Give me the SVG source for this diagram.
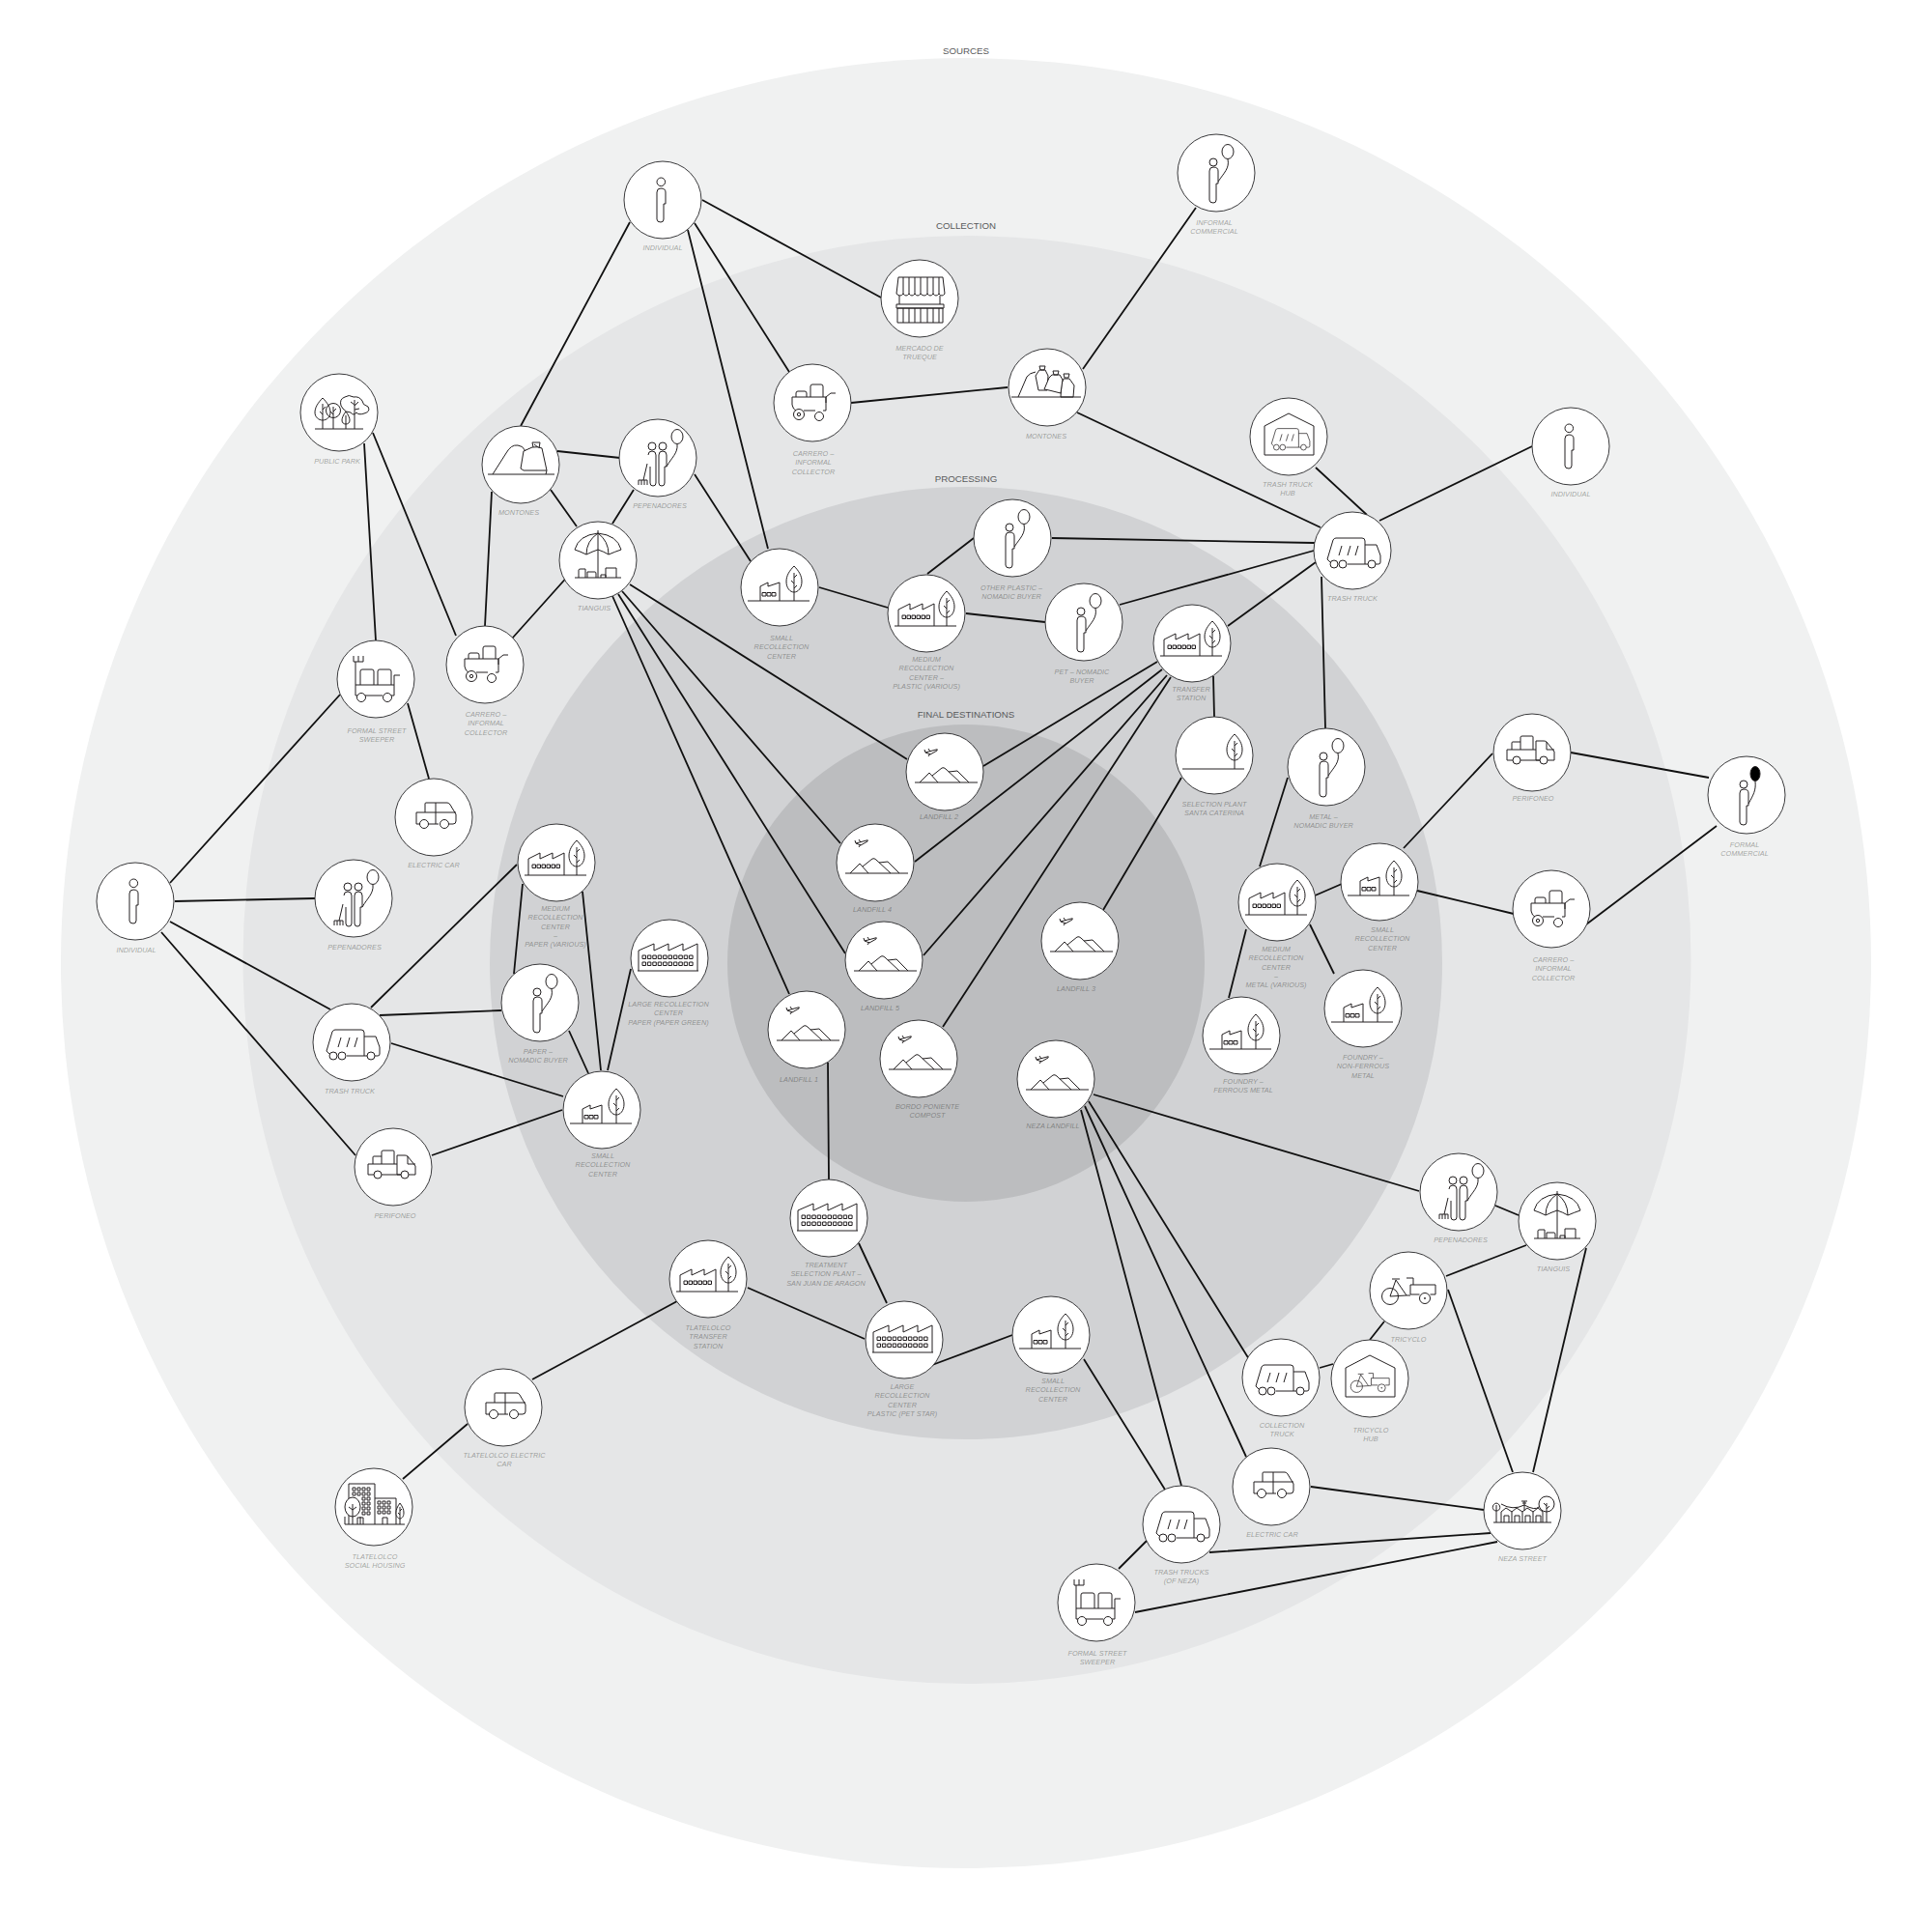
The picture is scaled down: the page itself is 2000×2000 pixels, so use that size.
<svg xmlns="http://www.w3.org/2000/svg" width="2000" height="2000" viewBox="0 0 2000 2000">
<style>
.d{fill:#fff;stroke:#3a3a3c;stroke-width:1}
.ic{fill:none;stroke:#231f20;stroke-width:1;stroke-linejoin:round}
.ci{fill:none;stroke:#111;stroke-width:1.800}
.l{font-family:"Liberation Sans",Arial,sans-serif;font-style:italic;font-size:7.300px;fill:#231f20;fill-opacity:.4;text-anchor:middle}
.h{font-family:"Liberation Sans",Arial,sans-serif;font-size:9.700px;fill:#58595b;text-anchor:middle}
</style>
<defs>
<g id="tree" class="ic"><path d="M0-36C-5-31-8-26-8-20C-8-13-4-9 0-9C4-9 8-13 8-20C8-26 5-31 0-36ZM0-29V0M0-24L3-27M0-18L-3-21M0-13L3-16"/></g>
<g id="person" class="ic"><circle cx="-1.700" cy="-18.700" r="4.300"/><path d="M-6-8Q-6-12-2-12Q3-12 3-8V4H1V20Q1 23-2 23Q-6 23-6 20Z"/></g>
<g id="balloon" class="ic"><circle cx="-3" cy="-11" r="4"/><path d="M-7-2Q-7-6-3-6Q2-6 2-2V11H0V28Q0 31-3 31Q-7 31-7 28Z"/><path d="M12-14C14-5 8 0 2 9"/><ellipse cx="12" cy="-22" rx="6" ry="7.500"/></g>
<g id="balloonk" class="ic"><circle cx="-3" cy="-11" r="4"/><path d="M-7-2Q-7-6-3-6Q2-6 2-2V11H0V28Q0 31-3 31Q-7 31-7 28Z"/><path d="M9-14C10-5 7 0 2 9"/><ellipse cx="9" cy="-22" rx="5" ry="7.500" fill="#000"/></g>
<g id="pep" class="ic"><circle cx="-6" cy="-12" r="4"/><circle cx="5" cy="-12" r="4"/><path d="M-10-3Q-10-7-6-7Q-2-7-2-3V26Q-2 29-5 29Q-8 29-8 26V9M1-3Q1-7 5-7Q9-7 9-3V9H7V26Q7 29 4 29Q1 29 1 26Z"/><path d="M-11 6L-15 23M-20 23H-11M-20 23V28M-17 23V28M-14 23V28M-11 23V28"/><path d="M20-14C21-5 14 0 9 9"/><ellipse cx="20" cy="-22" rx="6" ry="7.500"/></g>
<g id="mont1" class="ic"><path d="M-34 10H35M-29 10L-15-12Q-10-21-3-20Q2-20 5-14M3-14L12-18Q18-19 22-17L27 6L26 10M3-14L0 4L3 6L27 6"/><path d="M13-18L12-23L20-23L19-17M14-21L18-18"/></g>
<g id="mont3" class="ic"><path d="M-37 10H35M-30 10L-21-11Q-18-15-12-16"/><path d="M-8-18H-2L1-12L0 3H-9L-12-12ZM-8-22H-2L-3-18H-7Z"/><path d="M17-9H23L28-2L27 10H14L15-4ZM17-14H23L22-10H18Z"/><path d="M5-13H13L16-8L14 6L2 3L-3 2L2-10ZM6-17H12L11-13H7Z" fill="#fff"/></g>
<g id="tian" class="ic"><path d="M-24-11Q-20-26 0-28Q20-26 24-11Q18-9 11-6Q6-9 0-11Q-6-9-12-6Q-18-9-24-11ZM-12-6Q-12-20 0-28Q11-20 11-6M0-31V18M-24 18H24M-20 18V10Q-20 9-18 9H-13V18M-11 18V12H-3Q-2 12-2 14V18M3 18V15H8V18M8 18V8H19V18"/></g>
<g id="fs" class="ic"><path d="M-33 14H31M-20 14V-1L-12-5V-1L0-5V14"/><rect x="-18" y="5.500" width="4" height="3.500"/><rect x="-13" y="5.500" width="4" height="3.500"/><rect x="-8" y="5.500" width="4" height="3.500"/><use href="#tree" x="15" y="14"/></g>
<g id="fm" class="ic"><path d="M-33 13H31M-29 13V-4L-17-10V-4L-4-10V-4L8-10V13"/><path d="M-25 2h3.500v3.500h-3.500zM-20 2h3.500v3.500h-3.500zM-15 2h3.500v3.500h-3.500zM-10 2h3.500v3.500h-3.500zM-5 2h3.500v3.500h-3.500zM0 2h3.500v3.500h-3.500z"/><use href="#tree" x="21" y="13"/></g>
<g id="fl" class="ic" stroke-width="1.200"><path d="M-33 13H30M-32 13V-8L-16-15V-8L-1-15V-8L14-15V-8L29-15V13"/><path d="M-28-3h3.500v3.500h-3.500zM-22.600-3h3.500v3.500h-3.500zM-17.200-3h3.500v3.500h-3.500zM-11.800-3h3.500v3.500h-3.500zM-6.400-3h3.500v3.500h-3.500zM-1-3h3.500v3.500h-3.500zM4.400-3h3.500v3.500h-3.500zM9.800-3h3.500v3.500h-3.500zM15.200-3h3.500v3.500h-3.500zM20.600-3h3.500v3.500h-3.500z"/><path d="M-28 4h3.500v3.500h-3.500zM-22.600 4h3.500v3.500h-3.500zM-17.200 4h3.500v3.500h-3.500zM-11.800 4h3.500v3.500h-3.500zM-6.400 4h3.500v3.500h-3.500zM-1 4h3.500v3.500h-3.500zM4.400 4h3.500v3.500h-3.500zM9.800 4h3.500v3.500h-3.500zM15.200 4h3.500v3.500h-3.500zM20.600 4h3.500v3.500h-3.500z"/></g>
<g id="sel" class="ic"><path d="M-33 14H31"/><use href="#tree" x="21" y="14"/></g>
<g id="truck" class="ic"><path d="M-23 12L-26 9L-20-11Q-19-13-17-13H10Q13-13 13-10V14H-5M13-6H25L29 5V12Q29 14 27 14H24M16 14H13M-14 5L-11-5M-5 5L-2-5M3 5L6-5"/><circle cx="-19" cy="14" r="4"/><circle cx="-10" cy="14" r="4"/><circle cx="20" cy="14" r="4"/></g>
<g id="hub" class="ic"><path d="M-25 19H26V-11L0-24L-25-11Z"/><use href="#truck" transform="translate(1,1) scale(.72)"/></g>
<g id="trike" class="ic"><circle cx="-19" cy="6" r="8.500"/><circle cx="17" cy="8" r="5.500"/><circle cx="17" cy="8" r=".6"/><path d="M-19 6L-13-11L-2 5ZM-17-12H-9M-2-13H5V-6M2-6H28V4H22.500M11.500 4H2V-6M-2 5H2"/></g>
<g id="hubt" class="ic"><path d="M-25 19H26V-11L0-24L-25-11Z"/><use href="#trike" transform="translate(0,4) scale(.72)"/></g>
<g id="carr" class="ic"><path d="M-21-6H14V8M-21-6V2Q-20 7-17 8M-9 8H3M11 8H14M14 0V-6L19-10H24M-17-6V-10Q-17-12-15-12H-8Q-6-12-6-10V-6M-2-6V-17Q-2-19 0-19H9Q11-19 11-17V-6"/><circle cx="-14" cy="12" r="5.500"/><circle cx="-14" cy="12" r="1.700"/><circle cx="7" cy="14" r="4.500"/></g>
<g id="sweep" class="ic"><path d="M-21 6H19V17H16M-11 17H7M-21 6V17H-19M-21 6V-18M-23-24V-18H-13V-24M-18-24V-18M-16-8Q-16-10-14-10H-4Q-2-10-2-8V6M-16 6V-8M2 6V-8Q2-10 4-10H14Q16-10 16-8V6M19 6V-4H25"/><circle cx="-15" cy="19" r="4.500"/><circle cx="12" cy="19" r="4.500"/></g>
<g id="car" class="ic"><path d="M-14 7H-18V-5H-9V-14Q-9-15-8-15H2V7H-5M5 7H2M-9-5H2M2-15H14Q16-15 17-13L23-3V4Q23 7 20 7H16M2-5H23"/><circle cx="-10" cy="7" r="4.500"/><circle cx="11" cy="7" r="4.500"/></g>
<g id="pick" class="ic"><path d="M-20 8H-26V-3H4V8H8M-12 8H8M16 8H23V-1L15-11Q14-12 12-12H4V-3M-21-3V-10Q-21-11-20-11H-12M-12-3V-16Q-12-17-10-17H0Q1-17 1-16V-3M15-11V-3H23"/><circle cx="-16" cy="8" r="4"/><circle cx="12" cy="8" r="4"/></g>
<g id="land" class="ic"><path d="M-31 11H34M-26 11L-16 1L-7 11M-13 4L-3-4Q-1-5 1-3L16 11M4 0L13-1L25 11"/><path d="M-20-20L-9-23Q-7-24-8-22L-15-18ZM-20-20L-21-23M-15-21L-17-24M-15-19L-17-16"/></g>
<g id="park" class="ic"><path d="M-25 17H25"/><path d="M-17-15C-22-10-25-5-25 0C-25 5-21 8-17 8C-13 8-9 5-9 0C-9-5-12-10-17-15ZM-17-9V17M-17-3L-14-6M-17 2L-20-1"/><circle cx="-6" cy="-2" r="7.500"/><path d="M-6-6V17M-6-1L-3-4M-6 2L-9-1"/><path d="M7-1C4 3 3 6 3 8C3 11 5 12 7 12C9 12 11 11 11 8C11 6 10 3 7-1ZM7 3V17"/><path d="M2-7Q0-14 6-16Q10-19 15-16Q21-17 24-12Q24-8 30-6Q33-1 26 1Q20 3 18 0Q15 4 12 0Q7 0 4-4ZM16-13V17M16-7L20-11M16-3L21-4M16-8L12-11"/></g>
<g id="merc" class="ic"><path d="M-22-22H24L26-5Q23-1 20-5Q17-1 14-5Q11-1 8-5Q5-1 1-5Q-2-1-5-5Q-8-1-11-5Q-14-1-17-5Q-20-1-24-5ZM-17-22V-5M-11-22V-5M-5-22V-5M1-22V-5M8-22V-5M14-22V-5M20-22V-5M-21-3V6M21-3V6M-24 6H25V10H-24ZM-23 10H24V25H-23ZM-17 10V25M-11 10V25M-5 10V25M1 10V25M8 10V25M14 10V25M20 10V25"/></g>
<g id="neza" class="ic"><path d="M-30 12H30M-27 12V-6M-27 0C-32 0-32-7-27-8C-22-7-22 0-27 0ZM-22 12V1L-17-3L-11 1V12M-11 1L-6-3L0 1V12M0 1L5-3L11 1V12M11 1L16-3L21 1V12M-19 12V5H-14V12M-8 12V5H-3V12M3 12V5H8V12M14 12V5H19V12M2-10V0M-1-10H5M0-8H4M-22-7Q-10 0 2-6Q13 0 17-4M25 12V-8M25-2L28-5M25-5L22-8"/><circle cx="25" cy="-7" r="8"/></g>
<g id="house" class="ic"><path d="M-26 18V-24H1V18M1-9H23V18M-30 18H32M-17 18V11H-11V18M9 18V11H14V18M-30 18V10M-14 18V10"/><path d="M-22-20h3v3h-3zM-17-20h3v3h-3zM-12-20h3v3h-3zM-7-20h3v3h-3zM-22-15h3v3h-3zM-17-15h3v3h-3zM-12-15h3v3h-3zM-7-15h3v3h-3zM-12-10h3v3h-3zM-7-10h3v3h-3zM-12-5h3v3h-3zM-7-5h3v3h-3zM-12 0h3v3h-3zM-7 0h3v3h-3zM-12 5h3v3h-3zM-7 5h3v3h-3zM4-6h3v3h-3zM9-6h3v3h-3zM14-6h3v3h-3zM4-1h3v3h-3zM9-1h3v3h-3zM14-1h3v3h-3zM4 4h3v3h-3zM9 4h3v3h-3zM14 4h3v3h-3z"/><ellipse cx="-22" cy="0" rx="8" ry="10" fill="#fff"/><path d="M-22 18V-3M-22 3L-18 0M-22 3L-26 0"/><path d="M27-4C24 0 23 3 23 6C23 10 25 12 27 12C29 12 31 10 31 6C31 3 30 0 27-4ZM27 18V0M27 4L29 2M27 8L25 6" fill="#fff"/></g>
</defs>

<g id="rings">
<circle cx="1000" cy="997" r="937" fill="#f0f1f1"/>
<circle cx="1001" cy="993.500" r="749.500" fill="#e5e6e7"/>
<circle cx="1000" cy="997" r="493" fill="#d1d2d4"/>
<circle cx="1000" cy="997" r="247" fill="#bcbdbf"/>
<text class="h" x="1000" y="56">SOURCES</text>
<text class="h" x="1000" y="237">COLLECTION</text>
<text class="h" x="1000" y="499">PROCESSING</text>
<text class="h" x="1000" y="743">FINAL DESTINATIONS</text>
</g>

<g id="connectors" class="ci">
<path d="M652 230L539 441M712 238L795 568M719 231L817 385M727 207L912 308M881 417L1043 401M577 467L642 474M570 507L597 545M656 507L634 542M719 491L777 581M848 608L919 629M509 509L502 648M590 594L530 661"/>
<path d="M1008 557L960 594M1089 557L1361 562M1082 644L1000 635M1159 626L1360 570M1121 382L1238 215M1115 427L1367 546M1362 484L1415 533M1586 462L1428 539M1271 648L1362 582M1368 597L1372 754M1256 700L1257 742"/>
<path d="M1198 685L1018 793M1203 693L947 892M1208 699L956 989M1212 701L976 1063M1223 805L1142 942"/>
<path d="M652 605L939 786M644 612L870 873M640 615L875 987M634 617L817 1029"/>
<path d="M386 448L472 658M377 459L389 663M422 728L444 806M176 914L352 719M181 933L326 930M176 954L342 1045M167 965L368 1196"/>
<path d="M384 1043L535 895M393 1051L519 1046M405 1080L583 1135M447 1196L582 1149M541 915L532 1008M603 923L622 1108M589 1067L609 1111M653 1003L629 1108"/>
<path d="M1333 805L1304 897M1290 962L1272 1033M1359 928L1389 915M1356 957L1381 1008M1453 878L1545 780M1467 922L1567 946M1626 779L1769 805M1642 957L1777 855"/>
<path d="M857 1100L858 1221M889 1287L918 1349M774 1333L895 1386M965 1413L1048 1382M1122 1407L1206 1542M701 1347L551 1428M484 1474L417 1531"/>
<path d="M1132 1133L1469 1233M1127 1140L1293 1407M1123 1145L1290 1508M1119 1149L1223 1538M1548 1248L1572 1258M1497 1321L1580 1289M1642 1292L1587 1524M1499 1335L1566 1524M1433 1368L1418 1387M1366 1416L1380 1412M1357 1539L1536 1563M1252 1607L1543 1587M1175 1669L1550 1596M1158 1624L1187 1595"/>
</g>

<g id="n1"><circle class="d" cx="686" cy="207" r="40"/><use href="#person" x="686" y="207"/><text class="l" x="686" y="259">INDIVIDUAL</text></g>
<g id="n2"><circle class="d" cx="1259" cy="179" r="40"/><use href="#balloon" x="1259" y="179"/><text class="l" x="1257" y="233">INFORMAL<tspan x="1257" dy="9.300">COMMERCIAL</tspan></text></g>
<g id="n3"><circle class="d" cx="952" cy="309" r="40"/><use href="#merc" x="952" y="309"/><text class="l" x="952" y="363">MERCADO DE<tspan x="952" dy="9.300">TRUEQUE</tspan></text></g>
<g id="n4"><circle class="d" cx="841" cy="417" r="40"/><use href="#carr" x="841" y="417"/><text class="l" x="842" y="472">CARRERO –<tspan x="842" dy="9.300">INFORMAL</tspan><tspan x="842" dy="9.300">COLLECTOR</tspan></text></g>
<g id="n5"><circle class="d" cx="1084" cy="401" r="40"/><use href="#mont3" x="1084" y="401"/><text class="l" x="1083" y="454">MONTONES</text></g>
<g id="n6"><circle class="d" cx="351" cy="427" r="40"/><use href="#park" x="351" y="427"/><text class="l" x="349" y="480">PUBLIC PARK</text></g>
<g id="n7"><circle class="d" cx="539" cy="481" r="40"/><use href="#mont1" x="539" y="481"/><text class="l" x="537" y="533">MONTONES</text></g>
<g id="n8"><circle class="d" cx="681" cy="474" r="40"/><use href="#pep" x="681" y="474"/><text class="l" x="683" y="526">PEPENADORES</text></g>
<g id="n9"><circle class="d" cx="619" cy="580" r="40"/><use href="#tian" x="619" y="580"/><text class="l" x="615" y="632">TIANGUIS</text></g>
<g id="n10"><circle class="d" cx="807" cy="608" r="40"/><use href="#fs" x="807" y="608"/><text class="l" x="809" y="663">SMALL<tspan x="809" dy="9.300">RECOLLECTION</tspan><tspan x="809" dy="9.300">CENTER</tspan></text></g>
<g id="n11"><circle class="d" cx="1334" cy="452" r="40"/><use href="#hub" x="1334" y="452"/><text class="l" x="1333" y="504">TRASH TRUCK<tspan x="1333" dy="9.300">HUB</tspan></text></g>
<g id="n12"><circle class="d" cx="1626" cy="462" r="40"/><use href="#person" x="1626" y="462"/><text class="l" x="1626" y="514">INDIVIDUAL</text></g>
<g id="n13"><circle class="d" cx="1400" cy="570" r="40"/><use href="#truck" x="1400" y="570"/><text class="l" x="1400" y="622">TRASH TRUCK</text></g>
<g id="n14"><circle class="d" cx="1048" cy="557" r="40"/><use href="#balloon" x="1048" y="557"/><text class="l" x="1047" y="611">OTHER PLASTIC –<tspan x="1047" dy="9.300">NOMADIC BUYER</tspan></text></g>
<g id="n15"><circle class="d" cx="959" cy="635" r="40"/><use href="#fm" x="959" y="635"/><text class="l" x="959" y="685">MEDIUM<tspan x="959" dy="9.300">RECOLLECTION</tspan><tspan x="959" dy="9.300">CENTER –</tspan><tspan x="959" dy="9.300">PLASTIC (VARIOUS)</tspan></text></g>
<g id="n16"><circle class="d" cx="1122" cy="644" r="40"/><use href="#balloon" x="1122" y="644"/><text class="l" x="1120" y="698">PET – NOMADIC<tspan x="1120" dy="9.300">BUYER</tspan></text></g>
<g id="n17"><circle class="d" cx="1234" cy="666" r="40"/><use href="#fm" x="1234" y="666"/><text class="l" x="1233" y="716">TRANSFER<tspan x="1233" dy="9.300">STATION</tspan></text></g>
<g id="n18"><circle class="d" cx="1257" cy="782" r="40"/><use href="#sel" x="1257" y="782"/><text class="l" x="1257" y="835">SELECTION PLANT<tspan x="1257" dy="9.300">SANTA CATERINA</tspan></text></g>
<g id="n19"><circle class="d" cx="1373" cy="794" r="40"/><use href="#balloon" x="1373" y="794"/><text class="l" x="1370" y="848">METAL –<tspan x="1370" dy="9.300">NOMADIC BUYER</tspan></text></g>
<g id="n20"><circle class="d" cx="1586" cy="779" r="40"/><use href="#pick" x="1586" y="779"/><text class="l" x="1587" y="829">PERIFONEO</text></g>
<g id="n21"><circle class="d" cx="1808" cy="823" r="40"/><use href="#balloonk" x="1808" y="823"/><text class="l" x="1806" y="877">FORMAL<tspan x="1806" dy="9.300">COMMERCIAL</tspan></text></g>
<g id="n22"><circle class="d" cx="1428" cy="913" r="40"/><use href="#fs" x="1428" y="913"/><text class="l" x="1431" y="965">SMALL<tspan x="1431" dy="9.300">RECOLLECTION</tspan><tspan x="1431" dy="9.300">CENTER</tspan></text></g>
<g id="n23"><circle class="d" cx="1606" cy="941" r="40"/><use href="#carr" x="1606" y="941"/><text class="l" x="1608" y="996">CARRERO –<tspan x="1608" dy="9.300">INFORMAL</tspan><tspan x="1608" dy="9.300">COLLECTOR</tspan></text></g>
<g id="n24"><circle class="d" cx="1322" cy="934" r="40"/><use href="#fm" x="1322" y="934"/><text class="l" x="1321" y="985">MEDIUM<tspan x="1321" dy="9.300">RECOLLECTION</tspan><tspan x="1321" dy="9.300">CENTER</tspan><tspan x="1321" dy="9.300">–</tspan><tspan x="1321" dy="9.300">METAL (VARIOUS)</tspan></text></g>
<g id="n25"><circle class="d" cx="1285" cy="1072" r="40"/><use href="#fs" x="1285" y="1072"/><text class="l" x="1287" y="1122">FOUNDRY –<tspan x="1287" dy="9.300">FERROUS METAL</tspan></text></g>
<g id="n26"><circle class="d" cx="1411" cy="1044" r="40"/><use href="#fs" x="1411" y="1044"/><text class="l" x="1411" y="1097">FOUNDRY –<tspan x="1411" dy="9.300">NON-FERROUS</tspan><tspan x="1411" dy="9.300">METAL</tspan></text></g>
<g id="n27"><circle class="d" cx="978" cy="799" r="40"/><use href="#land" x="978" y="799"/><text class="l" x="972" y="848">LANDFILL 2</text></g>
<g id="n28"><circle class="d" cx="906" cy="893" r="40"/><use href="#land" x="906" y="893"/><text class="l" x="903" y="944">LANDFILL 4</text></g>
<g id="n29"><circle class="d" cx="915" cy="994" r="40"/><use href="#land" x="915" y="994"/><text class="l" x="911" y="1046">LANDFILL 5</text></g>
<g id="n30"><circle class="d" cx="1118" cy="974" r="40"/><use href="#land" x="1118" y="974"/><text class="l" x="1114" y="1026">LANDFILL 3</text></g>
<g id="n31"><circle class="d" cx="951" cy="1096" r="40"/><use href="#land" x="951" y="1096"/><text class="l" x="960" y="1148">BORDO PONIENTE<tspan x="960" dy="9.300">COMPOST</tspan></text></g>
<g id="n32"><circle class="d" cx="1093" cy="1117" r="40"/><use href="#land" x="1093" y="1117"/><text class="l" x="1090" y="1168">NEZA LANDFILL</text></g>
<g id="n33"><circle class="d" cx="835" cy="1066" r="40"/><use href="#land" x="835" y="1066"/><text class="l" x="827" y="1120">LANDFILL 1</text></g>
<g id="n34"><circle class="d" cx="389" cy="703" r="40"/><use href="#sweep" x="389" y="703"/><text class="l" x="390" y="759">FORMAL STREET<tspan x="390" dy="9.300">SWEEPER</tspan></text></g>
<g id="n35"><circle class="d" cx="502" cy="688" r="40"/><use href="#carr" x="502" y="688"/><text class="l" x="503" y="742">CARRERO –<tspan x="503" dy="9.300">INFORMAL</tspan><tspan x="503" dy="9.300">COLLECTOR</tspan></text></g>
<g id="n36"><circle class="d" cx="449" cy="846" r="40"/><use href="#car" x="449" y="846"/><text class="l" x="449" y="898">ELECTRIC CAR</text></g>
<g id="n37"><circle class="d" cx="140" cy="933" r="40"/><use href="#person" x="140" y="933"/><text class="l" x="141" y="986">INDIVIDUAL</text></g>
<g id="n38"><circle class="d" cx="366" cy="930" r="40"/><use href="#pep" x="366" y="930"/><text class="l" x="367" y="983">PEPENADORES</text></g>
<g id="n39"><circle class="d" cx="364" cy="1079" r="40"/><use href="#truck" x="364" y="1079"/><text class="l" x="362" y="1132">TRASH TRUCK</text></g>
<g id="n40"><circle class="d" cx="559" cy="1038" r="40"/><use href="#balloon" x="559" y="1038"/><text class="l" x="557" y="1091">PAPER –<tspan x="557" dy="9.300">NOMADIC BUYER</tspan></text></g>
<g id="n41"><circle class="d" cx="576" cy="893" r="40"/><use href="#fm" x="576" y="893"/><text class="l" x="575" y="943">MEDIUM<tspan x="575" dy="9.300">RECOLLECTION</tspan><tspan x="575" dy="9.300">CENTER</tspan><tspan x="575" dy="9.300">–</tspan><tspan x="575" dy="9.300">PAPER (VARIOUS)</tspan></text></g>
<g id="n42"><circle class="d" cx="693" cy="992" r="40"/><use href="#fl" x="693" y="992"/><text class="l" x="692" y="1042">LARGE RECOLLECTION<tspan x="692" dy="9.300">CENTER</tspan><tspan x="692" dy="9.300">PAPER (PAPER GREEN)</tspan></text></g>
<g id="n43"><circle class="d" cx="623" cy="1149" r="40"/><use href="#fs" x="623" y="1149"/><text class="l" x="624" y="1199">SMALL<tspan x="624" dy="9.300">RECOLLECTION</tspan><tspan x="624" dy="9.300">CENTER</tspan></text></g>
<g id="n44"><circle class="d" cx="407" cy="1208" r="40"/><use href="#pick" x="407" y="1208"/><text class="l" x="409" y="1261">PERIFONEO</text></g>
<g id="n45"><circle class="d" cx="858" cy="1261" r="40"/><use href="#fl" x="858" y="1261"/><text class="l" x="855" y="1312">TREATMENT<tspan x="855" dy="9.300">SELECTION PLANT –</tspan><tspan x="855" dy="9.300">SAN JUAN DE ARAGON</tspan></text></g>
<g id="n46"><circle class="d" cx="733" cy="1324" r="40"/><use href="#fm" x="733" y="1324"/><text class="l" x="733" y="1377">TLATELOLCO<tspan x="733" dy="9.300">TRANSFER</tspan><tspan x="733" dy="9.300">STATION</tspan></text></g>
<g id="n47"><circle class="d" cx="936" cy="1387" r="40"/><use href="#fl" x="936" y="1387"/><text class="l" x="934" y="1438">LARGE<tspan x="934" dy="9.300">RECOLLECTION</tspan><tspan x="934" dy="9.300">CENTER</tspan><tspan x="934" dy="9.300">PLASTIC (PET STAR)</tspan></text></g>
<g id="n48"><circle class="d" cx="1088" cy="1382" r="40"/><use href="#fs" x="1088" y="1382"/><text class="l" x="1090" y="1432">SMALL<tspan x="1090" dy="9.300">RECOLLECTION</tspan><tspan x="1090" dy="9.300">CENTER</tspan></text></g>
<g id="n49"><circle class="d" cx="521" cy="1457" r="40"/><use href="#car" x="521" y="1457"/><text class="l" x="522" y="1509">TLATELOLCO ELECTRIC<tspan x="522" dy="9.300">CAR</tspan></text></g>
<g id="n50"><circle class="d" cx="387" cy="1560" r="40"/><use href="#house" x="387" y="1560"/><text class="l" x="388" y="1614">TLATELOLCO<tspan x="388" dy="9.300">SOCIAL HOUSING</tspan></text></g>
<g id="n51"><circle class="d" cx="1510" cy="1234" r="40"/><use href="#pep" x="1510" y="1234"/><text class="l" x="1512" y="1286">PEPENADORES</text></g>
<g id="n52"><circle class="d" cx="1612" cy="1264" r="40"/><use href="#tian" x="1612" y="1264"/><text class="l" x="1608" y="1316">TIANGUIS</text></g>
<g id="n53"><circle class="d" cx="1458" cy="1336" r="40"/><use href="#trike" x="1458" y="1336"/><text class="l" x="1458" y="1389">TRICYCLO</text></g>
<g id="n54"><circle class="d" cx="1326" cy="1426" r="40"/><use href="#truck" x="1326" y="1426"/><text class="l" x="1327" y="1478">COLLECTION<tspan x="1327" dy="9.300">TRUCK</tspan></text></g>
<g id="n55"><circle class="d" cx="1418" cy="1427" r="40"/><use href="#hubt" x="1418" y="1427"/><text class="l" x="1419" y="1483">TRICYCLO<tspan x="1419" dy="9.300">HUB</tspan></text></g>
<g id="n56"><circle class="d" cx="1316" cy="1539" r="40"/><use href="#car" x="1316" y="1539"/><text class="l" x="1317" y="1591">ELECTRIC CAR</text></g>
<g id="n57"><circle class="d" cx="1576" cy="1564" r="40"/><use href="#neza" x="1576" y="1564"/><text class="l" x="1576" y="1616">NEZA STREET</text></g>
<g id="n58"><circle class="d" cx="1223" cy="1578" r="40"/><use href="#truck" x="1223" y="1578"/><text class="l" x="1223" y="1630">TRASH TRUCKS<tspan x="1223" dy="9.300">(OF NEZA)</tspan></text></g>
<g id="n59"><circle class="d" cx="1135" cy="1659" r="40"/><use href="#sweep" x="1135" y="1659"/><text class="l" x="1136" y="1714">FORMAL STREET<tspan x="1136" dy="9.300">SWEEPER</tspan></text></g>
</svg>
